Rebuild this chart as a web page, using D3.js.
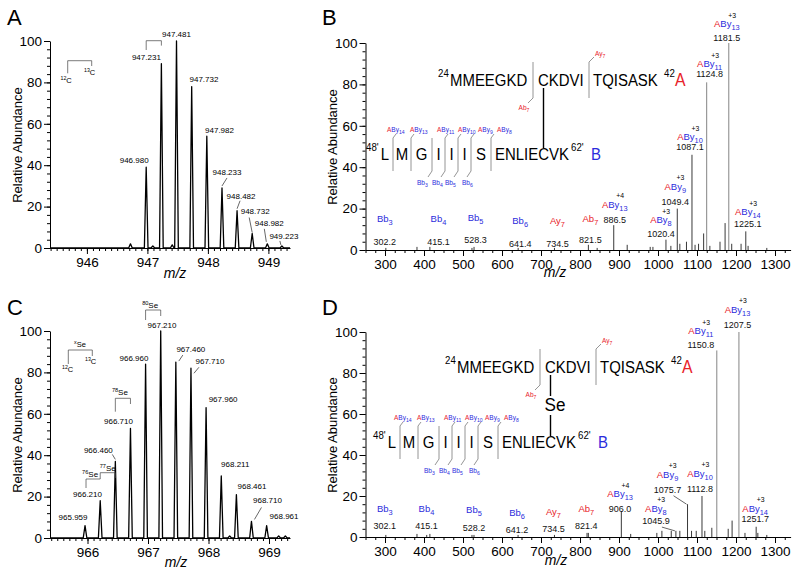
<!DOCTYPE html>
<html><head><meta charset="utf-8">
<script src="https://cdn.jsdelivr.net/npm/d3@7/dist/d3.min.js"></script>
<style>
body{margin:0;background:#fff;}
svg text{font-family:"Liberation Sans",Arial,Helvetica,sans-serif;}
</style></head>
<body>
<svg id="fig" width="800" height="575" xmlns="http://www.w3.org/2000/svg"></svg>
<script>
// ================= DATA =================
const aMz  = [946.72, 946.980, 947.09, 947.231, 947.41, 947.481, 947.732, 947.982, 948.233, 948.482, 948.732, 948.982, 949.223];
const aInt = [2, 39, 1, 89, 1.5, 100, 78, 54, 29, 18, 7, 2, 1];
const aLabelMz   = [946.980, 947.231, 947.481, 947.732, 947.982, 948.233, 948.482, 948.732, 948.982, 949.223];
const aLabelText = ["946.980","947.231","947.481","947.732","947.982","948.233","948.482","948.732","948.982","949.223"];
const aTicks = [946, 947, 948, 949];

const cMz  = [965.959, 966.210, 966.460, 966.710, 966.960, 967.210, 967.460, 967.710, 967.960, 968.211, 968.35, 968.461, 968.710, 968.961, 969.16, 969.27];
const cInt = [6, 18, 37, 53, 84, 100, 85, 82, 63, 30, 1, 21, 8, 6, 1, 1];
const cLabelMz   = [965.959, 966.210, 966.460, 966.710, 966.960, 967.210, 967.460, 967.710, 967.960, 968.211, 968.461, 968.710, 968.961];
const cLabelText = ["965.959","966.210","966.460","966.710","966.960","967.210","967.460","967.710","967.960","968.211","968.461","968.710","968.961"];
const cTicks = [966, 967, 968, 969];

const bMz  = [302.2, 382, 415.1, 523, 528.3, 641.4, 734.5, 821.5, 844, 886.5, 921, 980, 987, 1020.4, 1033, 1049.4, 1056, 1073, 1087.1, 1095, 1104, 1117, 1124.8, 1133, 1159, 1172, 1181.5, 1189, 1213, 1225.1, 1231, 1279];
const bInt = [1, 1.5, 1.5, 1, 1.5, 1, 1, 2.5, 1, 12, 2.5, 1.5, 1.5, 5, 2, 20, 3, 4, 46, 2.5, 3, 8, 81, 2, 4, 13, 100, 3, 3, 9, 2, 1];
const bLabelMz  = [302.2, 415.1, 528.3, 641.4, 734.5, 821.5, 886.5, 1020.4, 1049.4, 1087.1, 1124.8, 1181.5, 1225.1];
const bLabelNum = ["302.2","415.1","528.3","641.4","734.5","821.5","886.5","1020.4","1049.4","1087.1","1124.8","1181.5","1225.1"];
const bLabelIon = ["Bb3","Bb4","Bb5","Bb6","Ay7","Ab7","ABy13^+4","ABy8^+3","ABy9^+3","ABy10^+3","ABy11^+3","ABy13^+3","ABy14^+3"];

const dMz  = [302.1, 382, 407, 415.1, 523, 528.2, 641.2, 734.5, 818, 821.4, 906.0, 930, 997, 1010, 1034, 1045.9, 1056, 1075.7, 1086, 1098, 1112.8, 1120, 1138, 1150.8, 1180, 1190, 1207.5, 1223, 1251.7, 1256, 1279];
const dInt = [1, 1.5, 1, 1.5, 1, 1, 1, 1, 2, 2, 12.7, 1.5, 2, 3, 3, 3, 3, 16, 3, 3, 20, 3, 4.5, 91, 4, 8, 100, 2, 5, 2, 1];
const dLabelMz  = [302.1, 415.1, 528.2, 641.2, 734.5, 821.4, 906.0, 1045.9, 1075.7, 1112.8, 1150.8, 1207.5, 1251.7];
const dLabelNum = ["302.1","415.1","528.2","641.2","734.5","821.4","906.0","1045.9","1075.7","1112.8","1150.8","1207.5","1251.7"];
const dLabelIon = ["Bb3","Bb4","Bb5","Bb6","Ay7","Ab7","ABy13^+4","ABy8^+3","ABy9^+3","ABy10^+3","ABy11^+3","ABy13^+3","ABy14^+3"];

const msTicks = [300, 400, 500, 600, 700, 800, 900, 1000, 1100, 1200, 1300];
const yTicks  = [0, 20, 40, 60, 80, 100];

const pepA = ["MMEEGKD", "CKDVI", "TQISASK"];
const pepBletters = ["L", "M", "G", "I", "I", "I", "S"];
const pepBtail = "ENLIECVK";
const sepTop = ["ABy14", "ABy13", null, "ABy11", "ABy10", "ABy9", "ABy8"];
const sepBot = [null, null, "Bb3", "Bb4", "Bb5", "Bb6", null];

// ================= LAYOUT (positions only) =================
const aLabOff = [[-12,-4.6],[-15,-3.8],[0,-4],[12.3,-4.5],[12.7,-3.2],[5,-13],[4,-12],[3,-19.5],[2,-18],[2,-7]];
const aLeader = {5:[0,-2,5,-10], 6:[0,-2,3,-10], 7:[0,-1,-3,-16], 8:[-1,-2,-3,-15], 9:[-1,-1,-2,-5]};
const cLabOff = [[-12,-5.6],[-12.7,-4],[-17,-8.7],[-12,-4],[-11.6,-3],[1.3,-3],[15,-10],[19,-4],[17,-6],[14,-9],[15.6,-6],[16,-18.7],[17.4,-7]];
const cLeader = {2:[0,-2,-3,-7], 6:[3,-1,7,-7], 7:[3,5,8,-1], 11:[3,-2,10,-14]};
const bLabDx  = [-1, 8.6, 1.5, 2, 3, 2, 1, -5, -2, -2, 3, -2, 2];
const bNumLev = [2.4, 2.4, 3.4, 1.4, 1.4, 3.4, 13.0, 6.3, 21.7, 48.3, 83.6, 101.0, 11.1];
const bIonLev = [13.5, 13.5, 14.0, 12.6, 12.6, 13.5, 20.3, 13.0, 29.0, 53.1, 88.4, 107.7, 16.9];
const dLabDx  = [-1, -3.4, 0, -1, -1, -2, -1.3, -20, -20, -2, -16, -1.4, -1];
const dNumLev = [3.9, 3.9, 3.1, 2.0, 2.6, 3.9, 12.3, 6.3, 21.6, 22.1, 92.2, 102, 7.5];
const dIonLev = [12.3, 12.3, 11.9, 10.2, 10.7, 12.3, 19.5, 12.2, 28.8, 29.3, 99, 109.3, 12.2];
const dLeaderIdx = [7, 8];

const FONT = '"Liberation Sans", Arial, Helvetica, sans-serif';
const RED = "#e8232a", BLUE = "#2b2bdc";
const svg = d3.select("#fig");

function txt(g, x, y, s, size, o = {}) {
  const t = g.append("text").attr("x", x).attr("y", y).attr("font-size", size)
    .attr("font-family", FONT).attr("fill", o.fill || "#000")
    .attr("text-anchor", o.anchor || "start").text(s);
  if (o.italic) t.attr("font-style", "italic");
  return t;
}
function ctext(g, x, y, s, size, anchor, fill, sx = 0.88) {
  return g.append("text").attr("transform", `translate(${x},${y}) scale(${sx},1)`)
    .attr("font-size", size).attr("font-family", FONT).attr("fill", fill || "#000")
    .attr("text-anchor", anchor || "start").text(s);
}
function supText(g, x, y, sup, main, size, anchor) {
  const t = g.append("text").attr("x", x).attr("y", y).attr("font-size", size)
    .attr("font-family", FONT).attr("text-anchor", anchor || "start");
  t.append("tspan").attr("font-size", size * 0.7).attr("dy", -size * 0.4).text(sup);
  t.append("tspan").attr("dy", size * 0.4).text(main);
  return t;
}
function line(g, pts, color = "#000", w = 0.8) {
  g.append("path").attr("d", d3.line()(pts)).attr("fill", "none").attr("stroke", color).attr("stroke-width", w);
}
function ion(g, cx, base, name, size, anchor = "middle") {
  const [core, z] = name.split("^");
  const m = core.match(/^(A?)(B?)([by])(\d+)$/);
  const col = m[2] ? BLUE : RED;
  const t = g.append("text").attr("x", cx).attr("y", base).attr("font-size", size)
    .attr("font-family", FONT).attr("text-anchor", anchor);
  if (m[1]) t.append("tspan").attr("fill", RED).text("A");
  if (m[2]) t.append("tspan").attr("fill", BLUE).text("B");
  t.append("tspan").attr("fill", col).text(m[3]);
  t.append("tspan").attr("fill", col).attr("font-size", size * 0.78).attr("dy", size * 0.32).text(m[4]);
  if (z) {
    const bb = t.node().getBBox();
    txt(g, bb.x + bb.width * 0.56, base - size * 1.0, z, size * 0.72);
  }
  return t;
}

function axes(x, y, xMajor, xMinorStep, yMinorStep) {
  const x0 = x.range()[0], y0 = y.range()[0];
  const xd = x.domain();
  const xMinor = d3.range(Math.ceil(xd[0] / xMinorStep) * xMinorStep, xd[1], xMinorStep);
  const yMinor = d3.range(0, 100.01, yMinorStep);
  const style = g => g.attr("font-family", FONT).attr("font-size", 13.5)
    .call(s => s.selectAll("text").attr("fill", "#000"))
    .call(s => s.selectAll("line,path").attr("stroke", "#000"));
  svg.append("g").attr("transform", `translate(${x0},0)`)
    .call(d3.axisLeft(y).tickValues(yMinor).tickSize(3).tickFormat(""))
    .call(g => g.select(".domain").remove()).call(style);
  svg.append("g").attr("transform", `translate(${x0},0)`)
    .call(d3.axisLeft(y).tickValues(yTicks).tickSize(6).tickSizeOuter(0).tickPadding(2)).call(style);
  svg.append("g").attr("transform", `translate(0,${y0})`)
    .call(d3.axisBottom(x).tickValues(xMinor).tickSize(3).tickFormat(""))
    .call(g => g.select(".domain").remove()).call(style);
  svg.append("g").attr("transform", `translate(0,${y0})`)
    .call(d3.axisBottom(x).tickValues(xMajor).tickSize(6).tickSizeOuter(0).tickPadding(3).tickFormat(d3.format("d")))
    .call(style);
}

function titles(letter, lx, ly, tx, ty, mx, my) {
  txt(svg, lx, ly, letter, 22);
  svg.append("text").attr("transform", `translate(${tx},${ty}) rotate(-90)`)
    .attr("text-anchor", "middle").attr("font-size", 13).attr("font-family", FONT).text("Relative Abundance");
  txt(svg, mx, my, "m/z", 14, { anchor: "middle", italic: true });
}

function profile(x, y, mz, it) {
  const HW = 0.03, xd = x.domain();
  const pts = [[xd[0], 0]];
  d3.zip(mz, it).sort((a, b) => a[0] - b[0]).forEach(([m, h]) => pts.push([m - HW, 0], [m, h], [m + HW, 0]));
  pts.push([xd[1], 0]);
  svg.append("path").attr("d", d3.line().x(d => x(d[0])).y(d => y(d[1]))(pts))
    .attr("fill", "none").attr("stroke", "#000").attr("stroke-width", 1.3).attr("stroke-linejoin", "round");
}
function peakLabels(x, y, mz, it, labMz, labText, labOff, leaders) {
  labMz.forEach((m, i) => {
    const px = x(m), top = y(it[mz.indexOf(m)]);
    txt(svg, px + labOff[i][0], top + labOff[i][1], labText[i], 8, { anchor: "middle" });
    const L = leaders[i];
    if (L) line(svg, [[px + L[0], top + L[1]], [px + L[2], top + L[3]]], "#000", 0.6);
  });
}

// ---------- Panel A ----------
(function () {
  const x = d3.scaleLinear().domain([945.39, 949.357]).range([50, 290]);
  const y = d3.scaleLinear().domain([0, 100]).range([248, 41]);
  axes(x, y, aTicks, 0.1, 4);
  profile(x, y, aMz, aInt);
  peakLabels(x, y, aMz, aInt, aLabelMz, aLabelText, aLabOff, aLeader);
  const bx1 = x(946.980), bx2 = x(947.231);
  line(svg, [[bx1, 50], [bx1, 40.7], [bx2, 40.7], [bx2, 45.6]], "#444", 0.7);
  line(svg, [[67.7, 73.3], [67.7, 60.7], [91.7, 60.7], [91.7, 66]], "#444", 0.7);
  supText(svg, 60.5, 83, "12", "C", 7.5);
  supText(svg, 84, 75, "13", "C", 7.5);
  titles("A", 7, 25, 22, 145, 175, 278);
})();

// ---------- Panel C ----------
(function () {
  const x = d3.scaleLinear().domain([965.38, 969.347]).range([50, 290]);
  const y = d3.scaleLinear().domain([0, 100]).range([538, 331]);
  axes(x, y, cTicks, 0.1, 4);
  profile(x, y, cMz, cInt);
  peakLabels(x, y, cMz, cInt, cLabelMz, cLabelText, cLabOff, cLeader);
  let x1 = x(966.960), x2 = x(967.210);
  line(svg, [[x1, 320], [x1, 310], [x2, 310], [x2, 316]], "#444", 0.7);
  supText(svg, (x1 + x2) / 2 - 3, 307.7, "80", "Se", 8, "middle");
  x1 = x(966.460); x2 = x(966.710);
  line(svg, [[x1, 411.7], [x1, 398.3], [x2, 398.3], [x2, 404]], "#444", 0.7);
  supText(svg, (x1 + x2) / 2 - 3, 395, "78", "Se", 8, "middle");
  const x76 = x(965.959) + 1, x77 = x(966.210), x78 = x(966.460);
  line(svg, [[x76, 488], [x76, 479], [x77, 479], [x77, 472.7], [x78, 472.7], [x78, 478]], "#444", 0.7);
  supText(svg, (x76 + x77) / 2 - 3, 476.7, "76", "Se", 8, "middle");
  supText(svg, (x77 + x78) / 2, 470.7, "77", "Se", 8, "middle");
  line(svg, [[68.3, 364], [68.3, 350], [92.3, 350], [92.3, 356]], "#444", 0.7);
  supText(svg, 80, 346.7, "x", "Se", 7.5, "middle");
  supText(svg, 62, 372.3, "12", "C", 7.5);
  supText(svg, 85, 364.3, "13", "C", 7.5);
  titles("C", 7, 315, 22, 435, 176, 566.7);
})();

// ---------- stick panels (B, D) ----------
function stickPanel(mz, it, y0, y1, labMz, labNum, labIon, labDx, numLev, ionLev) {
  const x = d3.scaleLinear().domain([250, 1340]).range([365.5, 790.6]);
  const y = d3.scaleLinear().domain([0, 100]).range([y0, y1]);
  axes(x, y, msTicks, 25, 4);
  svg.append("g").selectAll("line").data(d3.zip(mz, it)).join("line")
    .attr("x1", d => x(d[0])).attr("x2", d => x(d[0]))
    .attr("y1", y(0)).attr("y2", d => y(d[1]))
    .attr("stroke", d => d[1] > 60 ? "#777" : "#222").attr("stroke-width", 0.9);
  labMz.forEach((m, i) => {
    const cx = x(m) + labDx[i];
    txt(svg, cx, y(numLev[i]), labNum[i], 9, { anchor: "middle", fill: "#111" });
    ion(svg, cx, y(ionLev[i]), labIon[i], 9.5);
  });
  return { x, y };
}

function peptide(ox, L1, L2, withSe) {
  const g = svg.append("g").attr("transform", `translate(${ox},0)`);
  const SEP = "#7a7a7a";
  ctext(g, 438, L1 - 9, "24", 11);
  ctext(g, 450, L1, pepA[0], 17);
  line(g, [[533, L1 + 12], [533, L1 - 24]], SEP);
  line(g, [[533, L1 + 12], [528, L1 + 17]], SEP);
  ion(g, 524, L1 + 24, "Ab7", 6.5);
  ctext(g, 538, L1, pepA[1], 17);
  line(g, [[589, L1 + 12], [589, L1 - 24], [594, L1 - 29]], SEP);
  ion(g, 595, L1 - 30, "Ay7", 6.5, "start");
  ctext(g, 593, L1, pepA[2], 17);
  ctext(g, 664, L1 - 9, "42", 11);
  ctext(g, 675, L1, "A", 18, "start", RED);
  const cx = 543.5;
  if (withSe) {
    line(g, [[cx, L1 + 2], [cx, L1 + 23]], "#000", 1.4);
    ctext(g, cx - 6, L1 + 38, "Se", 19, "start", "#000", 0.9);
    line(g, [[cx, L1 + 42], [cx, L2 - 12]], "#000", 1.4);
  } else {
    line(g, [[cx, L1 + 2], [cx, L2 - 12]], "#000", 1.4);
  }
  ctext(g, 366, L2 - 9, "48'", 11);
  const letterX = [385, 402, 421.5, 438.5, 451.5, 464.5, 481];
  pepBletters.forEach((c, i) => ctext(g, letterX[i], L2, c, 17, "middle"));
  ctext(g, 495, L2, pepBtail, 17);
  ctext(g, 571, L2 - 9, "62'", 11);
  ctext(g, 591, L2, "B", 17, "start", BLUE);
  const sepX = [393, 411, 432, 445, 458, 471, 491];
  const topOff = [-6, -1, 0, -8, 0, 7, 6];
  const botOff = [0, 0, -15, -13, -13, -9, 0];
  sepX.forEach((sx, i) => {
    line(g, [[sx, L2 - 22], [sx, L2 + 11]], SEP);
    if (sepTop[i]) {
      line(g, [[sx, L2 - 22], [sx + 3, L2 - 26]], SEP);
      ion(g, sx + topOff[i], L2 - 28, sepTop[i], 6.5, "start");
    }
    if (sepBot[i]) {
      line(g, [[sx, L2 + 11], [sx - 4, L2 + 17]], SEP);
      ion(g, sx + botOff[i], L2 + 25, sepBot[i], 6.5, "start");
    }
  });
}

const B = stickPanel(bMz, bInt, 250, 43, bLabelMz, bLabelNum, bLabelIon, bLabDx, bNumLev, bIonLev);
titles("B", 322, 25, 337, 147, 555, 276.7);
peptide(0, 86, 160, false);

const D = stickPanel(dMz, dInt, 537, 332, dLabelMz, dLabelNum, dLabelIon, dLabDx, dNumLev, dIonLev);
titles("D", 322, 315, 337, 435, 556, 565);
peptide(7, 373, 448, true);
dLeaderIdx.forEach(i => {
  const m = dLabelMz[i];
  const px = D.x(m), top = D.y(dInt[dMz.indexOf(m)]);
  const lx = px + dLabDx[i], ly = D.y(dNumLev[i]);
  line(svg, [[lx + 6, ly + 3], [px - 1, top]], "#000", 0.6);
});
</script>
</body></html>
